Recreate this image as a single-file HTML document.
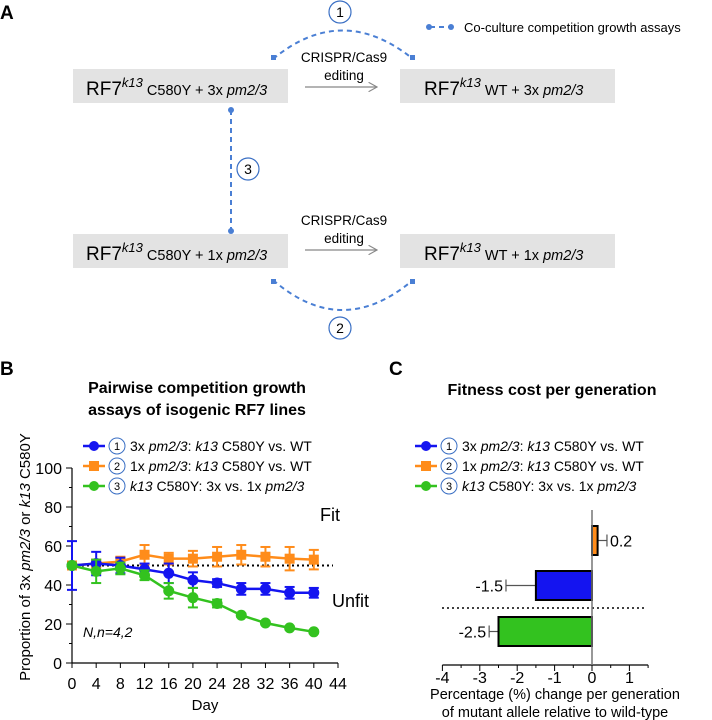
<!DOCTYPE html>
<html><head><meta charset="utf-8"><style>
body{margin:0;background:#fff}
svg{display:block;font-family:"Liberation Sans",sans-serif}
</style></head><body>
<svg id="fig" width="712" height="720" viewBox="0 0 712 720" xmlns="http://www.w3.org/2000/svg">
<defs>
<marker id="arr" viewBox="0 0 10 10" refX="9" refY="5" markerWidth="8" markerHeight="8" orient="auto"><path d="M0,0L9,5L0,10" fill="none" stroke="#888" stroke-width="1.2"/></marker>
</defs>
<g>
<text x="0" y="19" font-size="19" font-weight="bold">A</text>
<rect x="73" y="69" width="215" height="34" fill="#e3e3e3"/>
<rect x="400" y="69" width="215" height="34" fill="#e3e3e3"/>
<rect x="73" y="234" width="215" height="34" fill="#e3e3e3"/>
<rect x="400" y="234" width="215" height="34" fill="#e3e3e3"/>
<g font-size="19">
<text x="86" y="95">RF7<tspan font-size="13" font-style="italic" dy="-8">k13</tspan><tspan font-size="14.5" dy="8"> C580Y + 3x </tspan><tspan font-size="14.5" font-style="italic">pm2/3</tspan></text>
<text x="424" y="95">RF7<tspan font-size="13" font-style="italic" dy="-8">k13</tspan><tspan font-size="14.5" dy="8"> WT + 3x </tspan><tspan font-size="14.5" font-style="italic">pm2/3</tspan></text>
<text x="86" y="260">RF7<tspan font-size="13" font-style="italic" dy="-8">k13</tspan><tspan font-size="14.5" dy="8"> C580Y + 1x </tspan><tspan font-size="14.5" font-style="italic">pm2/3</tspan></text>
<text x="424" y="260">RF7<tspan font-size="13" font-style="italic" dy="-8">k13</tspan><tspan font-size="14.5" dy="8"> WT + 1x </tspan><tspan font-size="14.5" font-style="italic">pm2/3</tspan></text>
</g>
<g font-size="13.5" text-anchor="middle">
<text x="344" y="62">CRISPR/Cas9</text>
<text x="344" y="80">editing</text>
<text x="344" y="225">CRISPR/Cas9</text>
<text x="344" y="243">editing</text>
</g>
<line x1="305" y1="87" x2="377" y2="87" stroke="#888" stroke-width="1.2" marker-end="url(#arr)"/>
<line x1="305" y1="250" x2="377" y2="250" stroke="#888" stroke-width="1.2" marker-end="url(#arr)"/>
<g fill="none" stroke="#4a7fd4" stroke-width="2" stroke-dasharray="5,4">
<path d="M273,59 Q342,2 413,59"/>
<path d="M273,280 Q342,340 413,280"/>
<line x1="231" y1="110" x2="231" y2="231"/>
<line x1="430" y1="27" x2="450" y2="27"/>
</g>
<g fill="#4a7fd4">
<rect x="271" y="55" width="5" height="5"/><rect x="410" y="55" width="5" height="5"/>
<rect x="271" y="279" width="5" height="5"/><rect x="410" y="279" width="5" height="5"/>
<circle cx="231" cy="110" r="3"/><circle cx="231" cy="231" r="3"/>
<circle cx="429" cy="27" r="3"/><circle cx="451" cy="27" r="3"/>
</g>
<g fill="#fff" stroke="#3a6fc4" stroke-width="1.2">
<circle cx="340" cy="12" r="11"/><circle cx="248" cy="169" r="11"/><circle cx="340" cy="328" r="11"/>
</g>
<g font-size="14" text-anchor="middle">
<text x="340" y="17">1</text>
<text x="248" y="174">3</text>
<text x="340" y="333">2</text>
</g>
<text x="464" y="32" font-size="13">Co-culture competition growth assays</text>
</g>
<text x="0" y="375" font-size="19" font-weight="bold">B</text>
<text x="389" y="375" font-size="19" font-weight="bold">C</text>
<text x="197" y="393" font-size="16" font-weight="bold" text-anchor="middle">Pairwise competition growth</text>
<text x="197" y="415" font-size="16" font-weight="bold" text-anchor="middle">assays of isogenic RF7 lines</text>
<text x="552" y="395" font-size="16" font-weight="bold" text-anchor="middle">Fitness cost per generation</text>
<g id="chartB"></g>
<g id="chartC"></g>
</svg>
<script>
const days=[0,4,8,12,16,20,24,28,32,36,40];
const blueVals=[50,51,50,48,46,42.5,41,38,38,36,36];
const blueErr=[12.5,6,4,3,5,4,2,3,3,3,2.5];
const orangeVals=[50,51,52,55.5,53.5,53.5,54.5,55.5,54.5,53.5,53];
const orangeErr=[1.5,2,2.5,5,3,4,5,5,5,6,5];
const greenVals=[50,47,48.5,45,37,33.5,30.5,24.5,20.5,18,16];
const greenErr=[1,6,3,2.5,4,5,2,0.8,0.8,0.8,0.8];
const xTicks=[0,4,8,12,16,20,24,28,32,36,40,44];
const yTicks=[0,20,40,60,80,100];
const barCats=["orange","blue","green"];
const barVals=[0.15,-1.5,-2.5];
const barErrEnd=[0.4,-2.3,-2.75];
const barLabels=["0.2","-1.5","-2.5"];
const cTicks=[-4,-3,-2,-1,0,1];

const NS="http://www.w3.org/2000/svg";
function mk(parent,tag,attrs,text){const e=document.createElementNS(NS,tag);for(const k in attrs)e.setAttribute(k,attrs[k]);if(text!==undefined)e.textContent=text;parent.appendChild(e);return e;}
const colB={blue:"#1414f0",orange:"#ff8c1a",green:"#33c21f"};
const gB=document.getElementById('chartB');
const bx=d=>72+d*(266/44);
const by=v=>663-v*1.95;
let ax=mk(gB,'line',{x1:72,y1:by(100),x2:72,y2:663,stroke:'#000','stroke-width':1.2});


ax=mk(gB,'line',{x1:72,y1:663,x2:bx(44),y2:663,stroke:'#000','stroke-width':1.2});


yTicks.forEach(t=>{mk(gB,'line',{x1:66,x2:72,y1:by(t),y2:by(t),stroke:'#000'});
 const tl=mk(gB,'text',{x:62,y:by(t)+6,'font-size':16,'text-anchor':'end'},t);
 
 
 if(t<100)mk(gB,'line',{x1:69,x2:72,y1:by(t+10),y2:by(t+10),stroke:'#000'});});
xTicks.forEach(t=>{mk(gB,'line',{x1:bx(t),x2:bx(t),y1:663,y2:668,stroke:'#000'});
 const tl=mk(gB,'text',{x:bx(t),y:689,'font-size':16,'text-anchor':'middle'},t);
 
 });
let t=mk(gB,'text',{x:205,y:710,'font-size':15,'text-anchor':'middle'},'Day');


t=mk(gB,'text',{transform:'translate(30,557) rotate(-90)','font-size':15,'text-anchor':'middle'});
t.innerHTML='Proportion of 3x <tspan font-style="italic">pm2/3</tspan> or <tspan font-style="italic">k13</tspan> C580Y';


let dl=mk(gB,'line',{x1:72,x2:333,y1:by(50),y2:by(50),stroke:'#000','stroke-width':2,'stroke-dasharray':'2,3'});


function series(vals,errs,col,square,name){
 const g=mk(gB,'g',{});
 
 
 vals.forEach((v,i)=>{const x=bx(days[i]);
  mk(g,'line',{x1:x,x2:x,y1:by(v+errs[i]),y2:by(v-errs[i]),stroke:col,'stroke-width':2});
  mk(g,'line',{x1:x-5,x2:x+5,y1:by(v+errs[i]),y2:by(v+errs[i]),stroke:col,'stroke-width':2});
  mk(g,'line',{x1:x-5,x2:x+5,y1:by(v-errs[i]),y2:by(v-errs[i]),stroke:col,'stroke-width':2});});
 mk(g,'polyline',{points:vals.map((v,i)=>bx(days[i])+','+by(v)).join(' '),fill:'none',stroke:col,'stroke-width':2.5});
 vals.forEach((v,i)=>{let m;
  if(square)m=mk(g,'rect',{x:bx(days[i])-5,y:by(v)-5,width:10,height:10,fill:col});
  else m=mk(g,'circle',{cx:bx(days[i]),cy:by(v),r:5.5,fill:col});
  
  });
}
series(orangeVals,orangeErr,colB.orange,true,'series-2-orange');
series(blueVals,blueErr,colB.blue,false,'series-1-blue');
series(greenVals,greenErr,colB.green,false,'series-3-green');
t=mk(gB,'text',{x:320,y:521,'font-size':18},'Fit');


t=mk(gB,'text',{x:332,y:607,'font-size':18},'Unfit');


t=mk(gB,'text',{x:83,y:637,'font-size':14,'font-style':'italic'},'N,n=4,2');


const legTexts=['3x <tspan font-style="italic">pm2/3</tspan>: <tspan font-style="italic">k13</tspan> C580Y vs. WT','1x <tspan font-style="italic">pm2/3</tspan>: <tspan font-style="italic">k13</tspan> C580Y vs. WT','<tspan font-style="italic">k13</tspan> C580Y: 3x vs. 1x <tspan font-style="italic">pm2/3</tspan>'];
const legCols=[colB.blue,colB.orange,colB.green];
function legend(parent,x0,y0,fs,nameP){
 legTexts.forEach((s,i)=>{const y=y0+i*20;const g=mk(parent,'g',{});
  
  
  mk(g,'line',{x1:x0,x2:x0+22,y1:y,y2:y,stroke:legCols[i],'stroke-width':2.5});
  if(i==1)mk(g,'rect',{x:x0+6,y:y-5,width:10,height:10,fill:legCols[i]});else mk(g,'circle',{cx:x0+11,cy:y,r:5,fill:legCols[i]});
  mk(g,'circle',{cx:x0+34,cy:y,r:8,fill:'#fff',stroke:'#3a6fc4','stroke-width':1});
  mk(g,'text',{x:x0+34,y:y+4,'font-size':11,'text-anchor':'middle'},i+1);
  const tt=mk(g,'text',{x:x0+47,y:y+5,'font-size':fs});tt.innerHTML=s;});
}
legend(gB,83,446,14,'legend-b');
const gC=document.getElementById('chartC');
legend(gC,415,446,14,'legend-c');
const cx=v=>592+v*37.4;
const barY=[526,571,617];
const barH=29;
ax=mk(gC,'line',{x1:cx(-4),x2:cx(1.5),y1:665,y2:665,stroke:'#000','stroke-width':1.2});


cTicks.forEach(v=>{mk(gC,'line',{x1:cx(v),x2:cx(v),y1:665,y2:671,stroke:'#000'});
 const tl=mk(gC,'text',{x:cx(v),y:683,'font-size':16,'text-anchor':'middle'},v);
 
 
 if(v<1)mk(gC,'line',{x1:cx(v+0.5),x2:cx(v+0.5),y1:665,y2:668,stroke:'#000'});});
mk(gC,'line',{x1:cx(1.5),x2:cx(1.5),y1:665,y2:668,stroke:'#000'});
dl=mk(gC,'line',{x1:442,x2:647,y1:608,y2:608,stroke:'#000','stroke-width':1.5,'stroke-dasharray':'2,3'});


barVals.forEach((v,i)=>{const g=mk(gC,'g',{});
 
 
 const y=barY[i],mid=y+barH/2;
 mk(g,'line',{x1:cx(v),x2:cx(barErrEnd[i]),y1:mid,y2:mid,stroke:'#555','stroke-width':1.2});
 mk(g,'line',{x1:cx(barErrEnd[i]),x2:cx(barErrEnd[i]),y1:mid-6,y2:mid+6,stroke:'#555','stroke-width':1.2});
 mk(g,'rect',{x:Math.min(cx(0),cx(v)),y:y,width:Math.abs(cx(v)-cx(0)),height:barH,fill:colB[barCats[i]],stroke:'#000','stroke-width':2});
 const lx=v>0?cx(barErrEnd[i])+3:cx(barErrEnd[i])-3;
 const lt=mk(g,'text',{x:lx,y:mid+6,'font-size':16,'text-anchor':v>0?'start':'end'},barLabels[i]);
 
 });
ax=mk(gC,'line',{x1:cx(0),x2:cx(0),y1:510,y2:665,stroke:'#777','stroke-width':1.5});


t=mk(gC,'text',{x:555,y:699,'font-size':14.5,'text-anchor':'middle'},'Percentage (%) change per generation');


t=mk(gC,'text',{x:555,y:717,'font-size':14.5,'text-anchor':'middle'},'of mutant allele relative to wild-type');


</script>
</body></html>
